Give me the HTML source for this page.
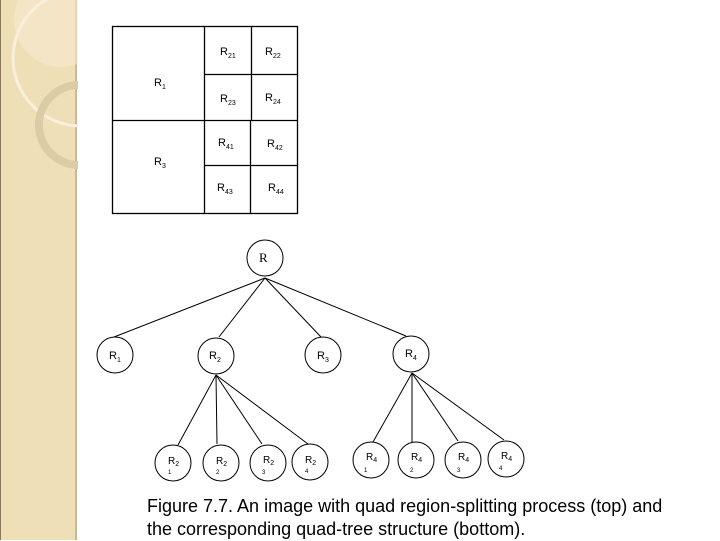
<!DOCTYPE html>
<html><head><meta charset="utf-8"><style>
html,body{margin:0;padding:0;}
body{width:720px;height:540px;position:relative;background:#fff;overflow:hidden;font-family:"Liberation Sans",sans-serif;}
.strip{position:absolute;left:0;top:0;width:77px;height:540px;background:#efdfb6;border-left:1px solid #8a7a5a;border-right:2px solid #c9b996;box-sizing:border-box;}
.cap{position:absolute;left:147px;top:495px;font-size:18px;line-height:23px;color:#000;white-space:nowrap;}
</style></head><body>
<div class="strip">
<svg width="77" height="540" style="position:absolute;left:0;top:0">
<circle cx="60" cy="20" r="47" fill="#f5ead0" opacity="0.6"/>
<circle cx="80" cy="58" r="68" fill="none" stroke="#f8f0dc" stroke-width="3"/>
<circle cx="78" cy="125" r="40" fill="none" stroke="#dccca6" stroke-width="8"/>
</svg>
</div>
<svg width="720" height="540" style="position:absolute;left:0;top:0" font-family="Liberation Sans, sans-serif" font-size="11">
<g stroke="#000" stroke-width="1.3" fill="none">
<rect x="112.5" y="26.5" width="185" height="187"/>
<line x1="204.5" y1="26" x2="204.5" y2="213"/>
<line x1="112" y1="120.5" x2="297" y2="120.5"/>
<line x1="251.5" y1="26" x2="251.5" y2="120"/>
<line x1="250.5" y1="120" x2="250.5" y2="213"/>
<line x1="204" y1="74.5" x2="297" y2="74.5"/>
<line x1="204" y1="165.5" x2="297" y2="165.5"/>
</g>
<g fill="#000">
<text x="220" y="55">R<tspan font-size="7" dy="3">21</tspan></text>
<text x="265" y="55">R<tspan font-size="7" dy="3">22</tspan></text>
<text x="154" y="86">R<tspan font-size="7" dy="3">1</tspan></text>
<text x="220" y="102">R<tspan font-size="7" dy="3">23</tspan></text>
<text x="265" y="101">R<tspan font-size="7" dy="3">24</tspan></text>
<text x="218" y="146">R<tspan font-size="7" dy="3">41</tspan></text>
<text x="267" y="147">R<tspan font-size="7" dy="3">42</tspan></text>
<text x="154" y="165">R<tspan font-size="7" dy="3">3</tspan></text>
<text x="217" y="191">R<tspan font-size="7" dy="3">43</tspan></text>
<text x="268" y="191">R<tspan font-size="7" dy="3">44</tspan></text>
</g>
<g stroke="#000" stroke-width="1" fill="none">
<line x1="265" y1="278" x2="114" y2="337"/>
<line x1="265" y1="278" x2="219" y2="337"/>
<line x1="265" y1="278" x2="321" y2="337"/>
<line x1="265" y1="278" x2="406" y2="336"/>
<line x1="216" y1="375" x2="178" y2="445"/>
<line x1="216" y1="375" x2="217" y2="444"/>
<line x1="216" y1="375" x2="262" y2="444"/>
<line x1="216" y1="375" x2="308" y2="444"/>
<line x1="412" y1="373" x2="373" y2="442"/>
<line x1="412" y1="373" x2="412" y2="442"/>
<line x1="412" y1="373" x2="458" y2="441"/>
<line x1="412" y1="373" x2="504" y2="440"/>
<g fill="#fff">
<circle cx="265" cy="258" r="18"/>
<circle cx="115" cy="355" r="18"/>
<circle cx="216" cy="356" r="18"/>
<circle cx="323" cy="355" r="18"/>
<circle cx="411" cy="354" r="18"/>
<circle cx="173" cy="463" r="18"/>
<circle cx="221" cy="463" r="18"/>
<circle cx="268" cy="463" r="18"/>
<circle cx="310" cy="462" r="18"/>
<circle cx="371" cy="460" r="18"/>
<circle cx="416" cy="460" r="18"/>
<circle cx="463" cy="460" r="18"/>
<circle cx="506" cy="459" r="18"/>
</g>
</g>
<g fill="#000">
<text x="259" y="262" font-family="Liberation Serif, serif" font-size="13">R</text>
<text x="109" y="359">R<tspan font-size="7" dy="3">1</tspan></text>
<text x="209" y="359">R<tspan font-size="7" dy="3">2</tspan></text>
<text x="317" y="359">R<tspan font-size="7" dy="3">3</tspan></text>
<text x="405" y="357">R<tspan font-size="7" dy="3">4</tspan></text>
<g font-size="10">
<text x="168" y="464">R<tspan font-size="7" dy="2">2</tspan></text>
<text x="216" y="464">R<tspan font-size="7" dy="2">2</tspan></text>
<text x="263" y="463">R<tspan font-size="7" dy="2">2</tspan></text>
<text x="305" y="463">R<tspan font-size="7" dy="2">2</tspan></text>
<text x="366" y="460">R<tspan font-size="7" dy="2">4</tspan></text>
<text x="411" y="460">R<tspan font-size="7" dy="2">4</tspan></text>
<text x="458" y="460">R<tspan font-size="7" dy="2">4</tspan></text>
<text x="501" y="459">R<tspan font-size="7" dy="2">4</tspan></text>
</g>
<g font-size="6">
<text x="168" y="474">1</text><text x="216" y="474">2</text><text x="262" y="474">3</text><text x="305" y="473">4</text>
<text x="364" y="472">1</text><text x="410" y="472">2</text><text x="457" y="472">3</text><text x="499" y="470">4</text>
</g>
</g>
</svg>
<div class="cap">Figure 7.7. An image with quad region-splitting process (top) and<br>the corresponding quad-tree structure (bottom).</div>
</body></html>
